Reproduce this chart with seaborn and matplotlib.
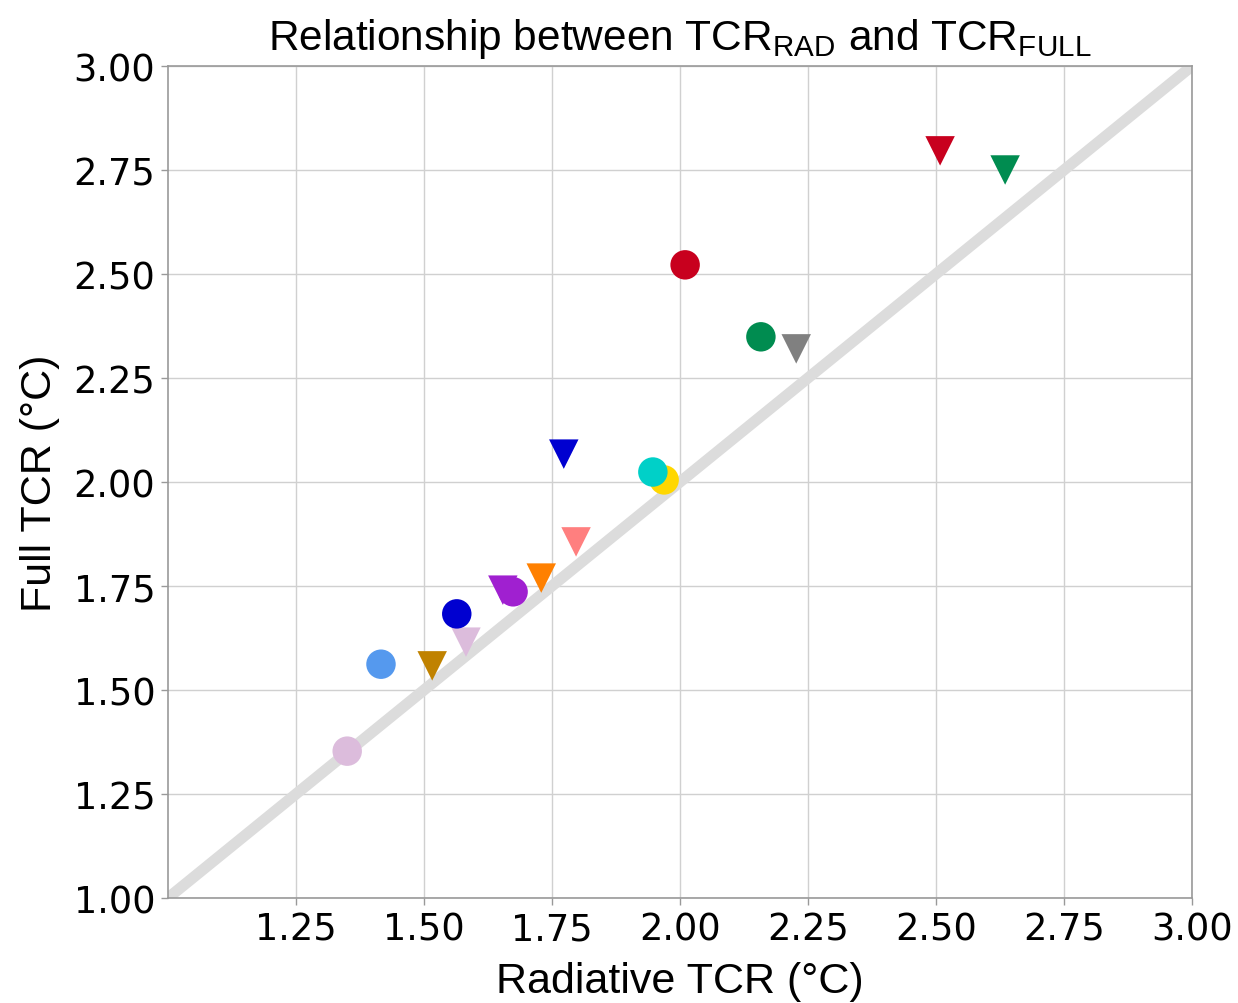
import matplotlib
matplotlib.use("Agg")
import matplotlib.pyplot as plt
import seaborn as sns
import pandas as pd

# ---- data ----
labels = ["thistle_c", "lightblue_c", "goldenrod_v", "thistle_v", "blue_c",
          "purple_v", "purple_c", "orange_v", "salmon_v", "blue_v",
          "yellow_c", "cyan_c", "red_c", "green_c", "gray_v", "red_v", "green_v"]
rad_tcr = [1.35, 1.416, 1.516, 1.582, 1.564, 1.654, 1.674, 1.729, 1.797, 1.773,
           1.969, 1.947, 2.010, 2.158, 2.227, 2.508, 2.635]
full_tcr = [1.353, 1.562, 1.558, 1.615, 1.683, 1.740, 1.736, 1.769, 1.856, 2.067,
            2.005, 2.024, 2.522, 2.349, 2.320, 2.796, 2.750]
shapes = ["circle", "circle", "tri", "tri", "circle", "tri", "circle", "tri", "tri", "tri",
          "circle", "circle", "circle", "circle", "tri", "tri", "tri"]
colors = ["#dcbcdc", "#5599ee", "#c08200", "#dcbcdc", "#0000d0", "#a020d0", "#a020d0",
          "#ff8000", "#ff7f7f", "#0000d0", "#ffd700", "#00d0c8", "#c8001e", "#008c50",
          "#808080", "#c8001e", "#008c50"]
xticks = [1.25, 1.50, 1.75, 2.00, 2.25, 2.50, 2.75, 3.00]
yticks = [1.00, 1.25, 1.50, 1.75, 2.00, 2.25, 2.50, 2.75, 3.00]

df = pd.DataFrame({"label": labels, "rad": rad_tcr, "full": full_tcr, "shape": shapes})

sns.set_style("white")
plt.rcParams["font.family"] = ["DejaVu Sans"]
plt.rcParams["text.color"] = "black"
plt.rcParams["axes.labelcolor"] = "black"
plt.rcParams["xtick.color"] = "black"
plt.rcParams["ytick.color"] = "black"

fig = plt.figure(figsize=(12.38, 10.04), dpi=100)
ax = fig.add_axes([168/1238, 1 - 899/1004, (1192-168)/1238, (899-67)/1004])

ax.grid(True, color="#d0d0d0", linewidth=1.0)
ax.set_axisbelow(True)

ax.plot([1.0, 3.0], [1.0, 3.0], color="#dcdcdc", linewidth=8, solid_capstyle="butt", zorder=1)

sns.scatterplot(data=df, x="rad", y="full", hue="label", style="shape",
                palette=dict(zip(labels, colors)),
                markers={"circle": "o", "tri": "v"},
                s=450, linewidth=0, legend=False, ax=ax, zorder=3)

ax.set_xlim(1.0, 3.0)
ax.set_ylim(1.0, 3.0)
ax.set_xticks(xticks)
ax.set_yticks(yticks)
ax.set_xticklabels([f"{t:.2f}" for t in xticks])
ax.set_yticklabels([f"{t:.2f}" for t in yticks])
ax.tick_params(axis="both", labelsize=26.5, length=5, width=1, color="#999999",
               labelcolor="black", direction="out", bottom=True, left=True, pad=4)
for sp in ax.spines.values():
    sp.set_color("#999999")
    sp.set_linewidth(1.2)

lab_font = dict(family=["Liberation Sans", "DejaVu Sans"], size=31, color="black")
ax.set_xlabel("Radiative TCR (°C)", fontdict=lab_font, labelpad=10)
ax.set_ylabel("Full TCR (°C)", fontdict=lab_font, labelpad=10)
plt.rcParams["mathtext.default"] = "regular"
ax.set_title(r"Relationship between TCR$_{\mathregular{RAD}}$ and TCR$_{\mathregular{FULL}}$",
             family=["Liberation Sans", "DejaVu Sans"], fontsize=30.5, color="black", pad=12)

fig.savefig("out.png", dpi=100)
